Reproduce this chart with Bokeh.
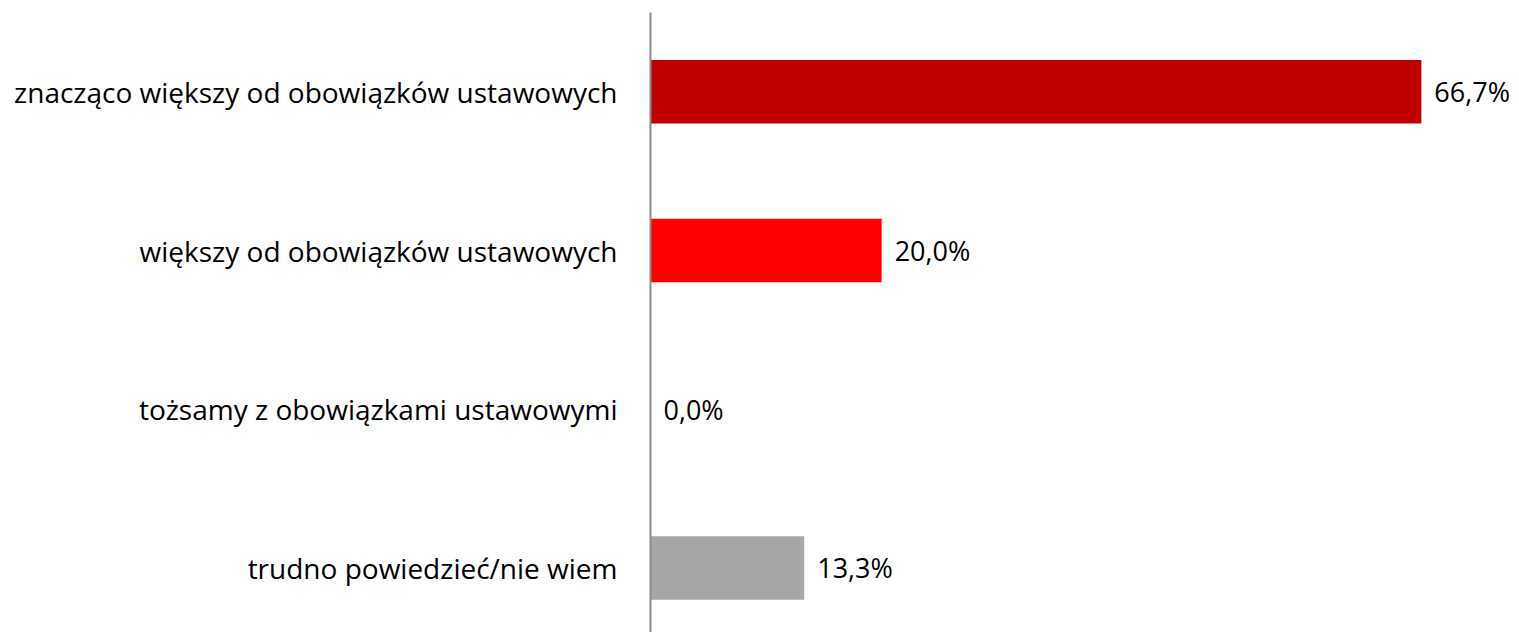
from bokeh.plotting import figure
from bokeh.models import ColumnDataSource, Range1d, FixedTicker, LabelSet
from bokeh.core.properties import value
from bokeh.embed import file_html
from bokeh.resources import INLINE

categories = [
    "znacząco większy od obowiązków ustawowych",
    "większy od obowiązków ustawowych",
    "tożsamy z obowiązkami ustawowymi",
    "trudno powiedzieć/nie wiem",
]
values = [66.7, 20.0, 0.0, 13.3]
colors = ["#C00000", "#FF0000", "#FF0000", "#A6A6A6"]

n = len(categories)
ypos = [n - i for i in range(n)]
labels = [f"{v:.1f}".replace(".", ",") + "%" for v in values]

src = ColumnDataSource(dict(y=ypos, v=values, c=colors, lab=labels, zero=[0] * n))

FONT = "Open Sans"
FS = "28px"

p = figure(width=1511, height=632, output_backend="svg", toolbar_location=None,
           x_range=Range1d(0, 74.5), y_range=Range1d(0.593, 4.5),
           min_border_left=650, min_border_right=0, min_border_top=12, min_border_bottom=0)

p.hbar(y="y", left="zero", right="v", height=0.4, color="c", line_color=None, source=src)
ls = LabelSet(x="v", y="y", text="lab", source=src, x_offset=13, text_baseline="middle",
              text_align="left", text_font=value(FONT), text_font_size="27px",
              text_color="#000000")
p.add_layout(ls)

p.xaxis.visible = False
p.xgrid.visible = False
p.ygrid.visible = False
p.outline_line_color = None

ya = p.yaxis[0]
ya.ticker = FixedTicker(ticks=ypos)
ya.major_label_overrides = {y: c for y, c in zip(ypos, categories)}
ya.major_tick_line_color = None
ya.minor_tick_line_color = None
ya.axis_line_color = "#898989"
ya.axis_line_width = 2
ya.major_label_standoff = 27
ya.major_label_text_font = FONT
ya.major_label_text_font_size = FS
ya.major_label_text_color = "#000000"

open("out.html", "w").write(file_html(p, INLINE))
